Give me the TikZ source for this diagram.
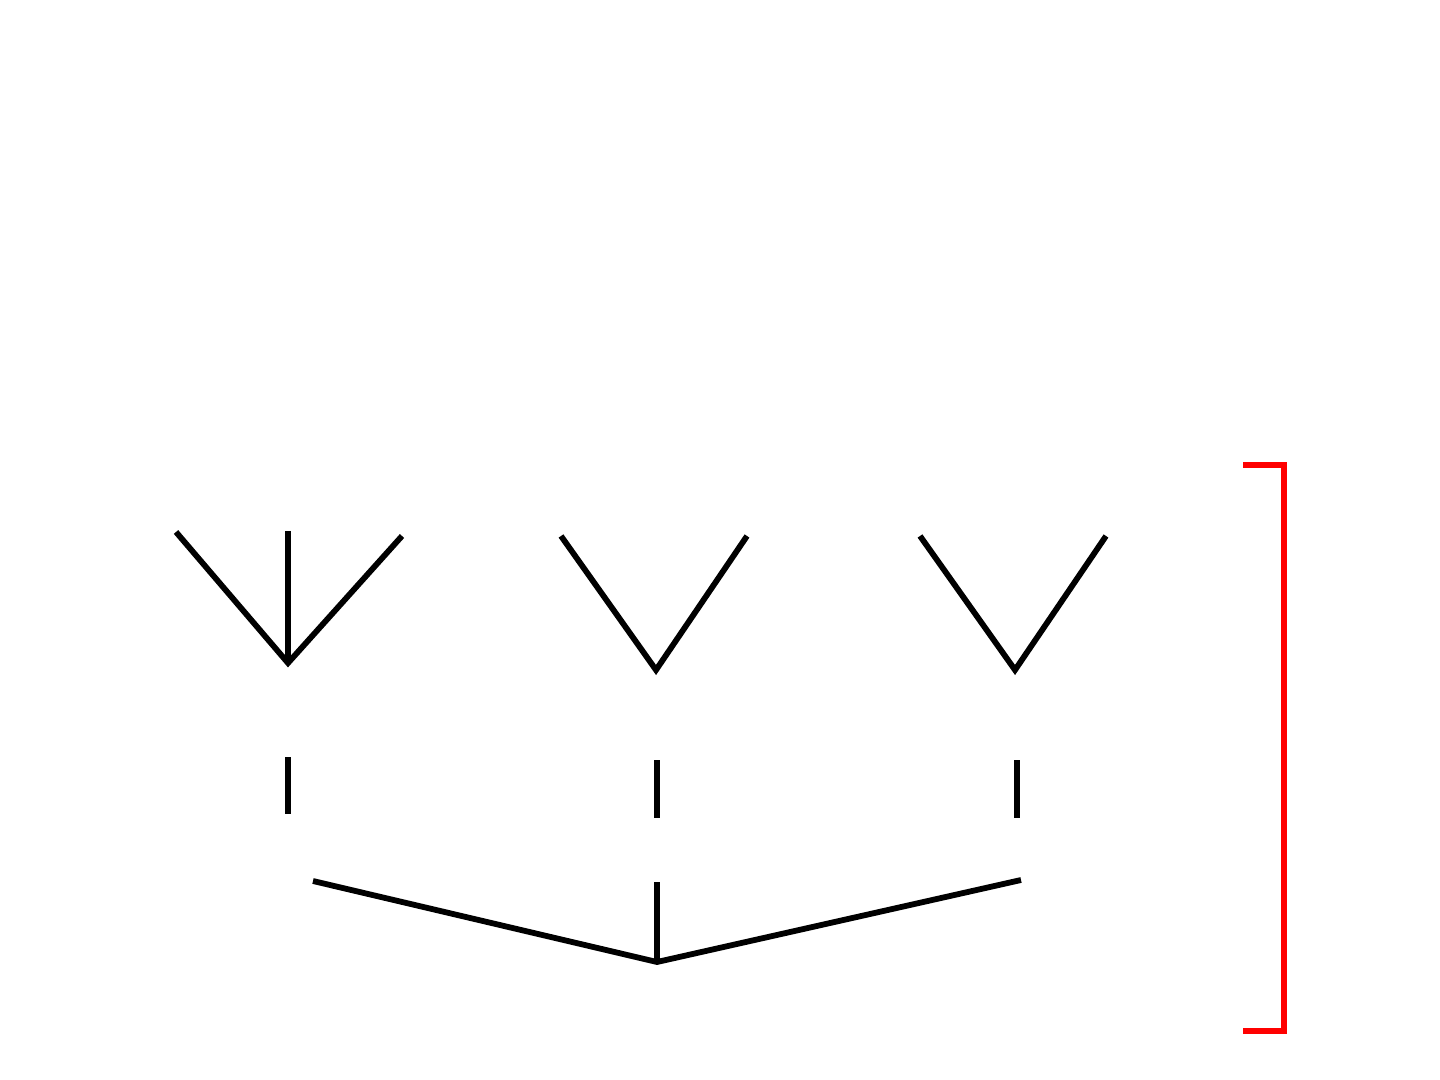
\documentclass[tikz,border=0pt]{standalone}
\usetikzlibrary{calc}
\definecolor{brackred}{HTML}{FF0000}

\begin{document}
\begin{tikzpicture}[
    x=0.01cm, y=-0.01cm,
    branch/.style={line width=1.65pt, black},
    stub/.style={line width=1.65pt, black},
    brack/.style={line width=1.65pt, brackred}
  ]
  \useasboundingbox (0,0) rectangle (1440,1080);

  % Upper trees
  \coordinate (rootA) at (288,663);
  \coordinate (rootB) at (656,670);
  \coordinate (rootC) at (1015,670);
  \draw[branch] (176,532) -- (rootA) -- (402,536);
  \draw[branch] (288,531) -- (rootA);
  \draw[branch] (561,536) -- (rootB) -- (747,536);
  \draw[branch] (920,536) -- (rootC) -- (1106,536);

  % Short stubs
  \foreach \x/\ya/\yb in {288/757/814, 657/760/818, 1017/760/818} {
    \draw[stub] (\x,\ya) -- (\x,\yb);
  }

  % Lower tree
  \coordinate (rootD) at (657,962);
  \draw[branch] (313,881) -- (rootD) -- (1021,880);
  \draw[branch] (657,882) -- (rootD);

  % Bracket
  \draw[brack] (1243,465) -- (1284,465) -- (1284,1031) -- (1243,1031);
\end{tikzpicture}
\end{document}
